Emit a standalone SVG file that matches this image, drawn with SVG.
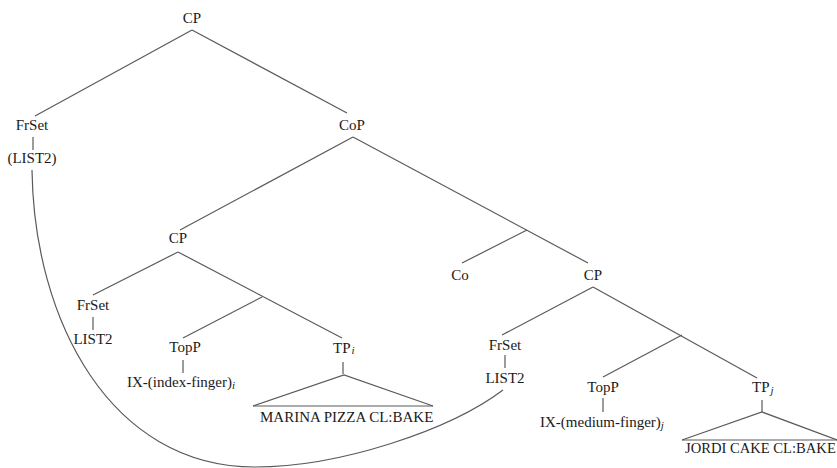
<svg xmlns="http://www.w3.org/2000/svg" width="837" height="468" viewBox="0 0 837 468">
<style>
text{font-family:"Liberation Serif","Times New Roman",serif;font-size:15px;fill:#1a1a1a}
.m{text-anchor:middle}
.s{font-style:italic;font-size:11px}
#connectors line,#connectors path,#connectors polyline{stroke:#5a5a5a;stroke-width:1.2;fill:none}
</style>
<rect width="837" height="468" fill="#fff"/>
<g id="connectors">
<line x1="192" y1="30" x2="35" y2="116"/>
<line x1="192" y1="30" x2="347" y2="113"/>
<line x1="33" y1="137" x2="33" y2="150"/>
<line x1="353" y1="137" x2="180" y2="230"/>
<line x1="353" y1="137" x2="588" y2="263"/>
<line x1="527" y1="230" x2="462" y2="263"/>
<line x1="178" y1="252" x2="93" y2="295"/>
<line x1="178" y1="252" x2="342" y2="338"/>
<line x1="93" y1="317" x2="93" y2="330"/>
<line x1="262" y1="297" x2="183" y2="338"/>
<line x1="183" y1="360" x2="183" y2="373"/>
<line x1="343" y1="362" x2="343" y2="374"/>
<polyline points="253,406 344,375 433,406"/>
<line x1="253" y1="406" x2="433" y2="406"/>
<line x1="593" y1="287" x2="502" y2="335"/>
<line x1="593" y1="287" x2="757" y2="378"/>
<line x1="505" y1="355" x2="505" y2="368"/>
<line x1="682" y1="335" x2="603" y2="377"/>
<line x1="603" y1="398" x2="603" y2="412"/>
<line x1="762" y1="400" x2="762" y2="412"/>
<polyline points="682,440 762,412 837,440"/>
<line x1="682" y1="440" x2="837" y2="440"/>
<path d="M32,170 C34,320 110,467 255,467 C340,467 450,430 503,390"/>
</g>
<g id="cp-root"><text class="m" x="192" y="23">CP</text></g>
<g id="frset-1"><text class="m" x="32" y="130">FrSet</text></g>
<g id="list2-1"><text class="m" x="32" y="163">(LIST2)</text></g>
<g id="cop"><text class="m" x="352" y="130">CoP</text></g>
<g id="cp-left"><text class="m" x="178" y="243">CP</text></g>
<g id="frset-2"><text class="m" x="93" y="310">FrSet</text></g>
<g id="list2-2"><text class="m" x="93" y="344">LIST2</text></g>
<g id="topp-1"><text class="m" x="185" y="352">TopP</text></g>
<g id="ix-index"><text x="127" y="387">IX-(index-finger)<tspan class="s" dy="2">i</tspan></text></g>
<g id="tp-i"><text x="333" y="353">TP<tspan class="s" dx="1" dy="1">i</tspan></text></g>
<g id="marina"><text x="260" y="422">MARINA PIZZA CL:BAKE</text></g>
<g id="co"><text class="m" x="460" y="280">Co</text></g>
<g id="cp-right"><text class="m" x="593" y="280">CP</text></g>
<g id="frset-3"><text class="m" x="505" y="350">FrSet</text></g>
<g id="list2-3"><text class="m" x="505" y="383">LIST2</text></g>
<g id="topp-2"><text class="m" x="603" y="392">TopP</text></g>
<g id="ix-medium"><text x="540" y="427">IX-(medium-finger)<tspan class="s" dy="2">j</tspan></text></g>
<g id="tp-j"><text x="752" y="392">TP<tspan class="s" dx="1" dy="2">j</tspan></text></g>
<g id="jordi"><text x="685" y="453" style="font-size:14.6px">JORDI CAKE CL:BAKE</text></g>
</svg>
